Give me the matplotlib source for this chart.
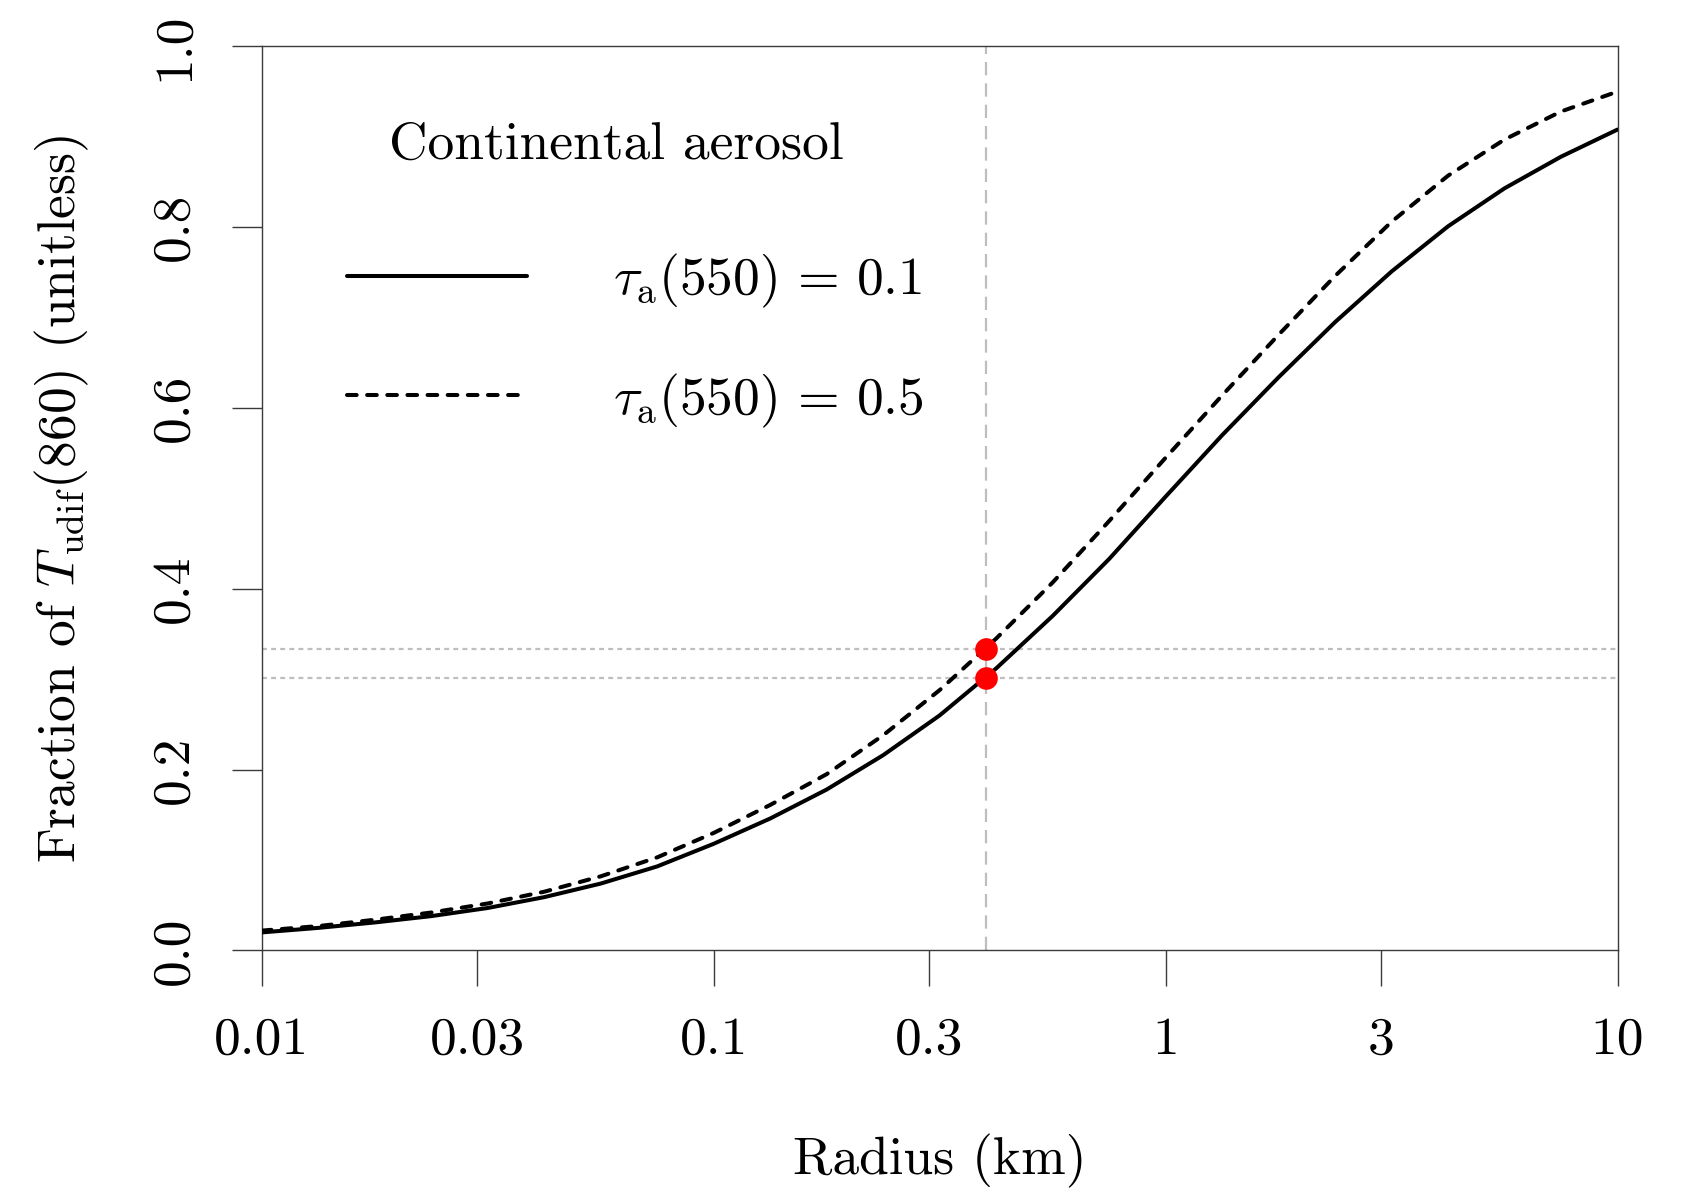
import numpy as np
import matplotlib
matplotlib.use("Agg")
import matplotlib.pyplot as plt

plt.rcParams['font.family'] = 'serif'
plt.rcParams['font.serif'] = ['cmr10']
plt.rcParams['mathtext.fontset'] = 'cm'
plt.rcParams['axes.formatter.use_mathtext'] = True

# values (radius in km, fraction unitless)
radius = [0.01, 0.01334, 0.01778, 0.02371, 0.03162, 0.04217, 0.05623, 0.07499,
          0.1, 0.1334, 0.1778, 0.2371, 0.3162, 0.4217, 0.5623, 0.7499,
          1.0, 1.334, 1.778, 2.371, 3.162, 4.217, 5.623, 7.499, 10.0]
frac_tau01 = [0.020, 0.025, 0.031, 0.038, 0.047, 0.059, 0.074, 0.093,
              0.118, 0.146, 0.178, 0.216, 0.260, 0.312, 0.370, 0.433,
              0.502, 0.570, 0.634, 0.695, 0.751, 0.801, 0.843, 0.878, 0.908]
frac_tau05 = [0.022, 0.027, 0.034, 0.042, 0.052, 0.065, 0.082, 0.103,
              0.130, 0.161, 0.195, 0.238, 0.288, 0.345, 0.407, 0.475,
              0.545, 0.614, 0.681, 0.746, 0.806, 0.857, 0.897, 0.928, 0.950]

r_mark = 0.4
mark_vals = [0.301, 0.334]

xticks = [0.01, 0.03, 0.1, 0.3, 1, 3, 10]
xtick_labels = ['0.01', '0.03', '0.1', '0.3', '1', '3', '10']
yticks = [0.0, 0.2, 0.4, 0.6, 0.8, 1.0]
ytick_labels = ['0.0', '0.2', '0.4', '0.6', '0.8', '1.0']

fs = 38.5
fig = plt.figure(figsize=(16.92, 11.89), dpi=100)
ax = fig.add_axes([0.1547, 0.2006, 0.9560 - 0.1547, 0.961 - 0.2006])

grey = '#bebebe'
ax.axvline(r_mark, color=grey, lw=1.6, linestyle=(0, (6, 3.6)), zorder=1)
for v in mark_vals:
    ax.axhline(v, color=grey, lw=1.6, linestyle=(0, (2.2, 1.9)), zorder=1)

ax.plot(radius, frac_tau01, color='black', lw=2.9, solid_capstyle='round',
        label=r'$\tau_{\rm a}(550) \,=\, 0.1$', zorder=3)
ax.plot(radius, frac_tau05, color='black', lw=2.9, linestyle=(0, (2.4, 2.6)),
        dash_capstyle='round', label=r'$\tau_{\rm a}(550) \,=\, 0.5$', zorder=3)
ax.plot([r_mark] * len(mark_vals), mark_vals, 'o', color='red', ms=16.3,
        markeredgewidth=0, zorder=4)

ax.set_xscale('log')
ax.set_xlim(0.01, 10)
ax.set_ylim(0, 1)
ax.set_xticks(xticks)
ax.set_xticklabels(xtick_labels)
ax.xaxis.set_minor_locator(matplotlib.ticker.NullLocator())
ax.set_yticks(yticks)
ax.set_yticklabels(ytick_labels, rotation=90, va='center')

for s in ax.spines.values():
    s.set_color('#3a3a3a')
    s.set_linewidth(1.0)
ax.tick_params(axis='x', direction='out', length=26, width=1.0, color='#3a3a3a',
               labelsize=fs, pad=22)
ax.tick_params(axis='y', direction='out', length=21.6, width=1.0, color='#3a3a3a',
               labelsize=fs, pad=24.6)

ax.set_xlabel('Radius (km)', fontsize=fs)
ax.xaxis.label.set_va('center')
ax.xaxis.set_label_coords(0.5, -0.2332)
ax.set_ylabel(r'Fraction of $T_{\rm udif}(860)$ (unitless)', fontsize=fs)
ax.yaxis.label.set_va('center')
ax.yaxis.set_label_coords(-0.147, 0.5)

# legend title and entries (R style, no box)
ax.text(0.2613, 0.8903, 'Continental aerosol', transform=ax.transAxes,
        ha='center', va='center', fontsize=fs)
ax.legend(loc='upper left', bbox_to_anchor=(0.0632, 0.7726), frameon=False,
          fontsize=fs, handlelength=3.36, handletextpad=1.6, labelspacing=1.15,
          borderpad=0, borderaxespad=0)

fig.savefig('out.png', dpi=100)
